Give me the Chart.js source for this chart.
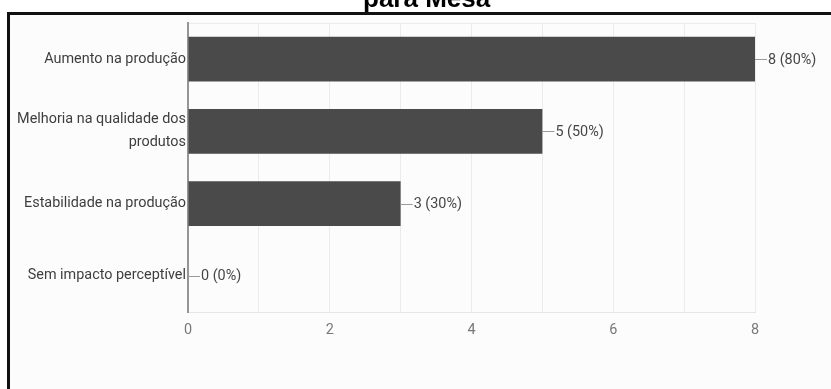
<!DOCTYPE html>
<html>
<head>
<meta charset="utf-8">
<script src="https://cdn.jsdelivr.net/npm/chart.js@4.4.1/dist/chart.umd.min.js"></script>
<style>
  html, body { margin: 0; padding: 0; background: #ffffff; width: 831px; height: 389px; overflow: hidden; }
  #title {
    position: absolute; left: 363px; top: -15px;
    font: bold 26px "Liberation Sans", Arial, sans-serif; line-height: 1;
    color: #000; white-space: nowrap; z-index: 3;
  }
  #frame {
    position: absolute; left: 7px; top: 12px; right: -10px; bottom: -10px;
    border-left: 3px solid #111; border-top: 3px solid #111;
    background: #fcfcfc; z-index: 1;
  }
  #wrap { position: absolute; left: 0; top: 0; width: 831px; height: 389px; z-index: 2; }
</style>
</head>
<body>
<div id="title">para Mesa</div>
<div id="frame"></div>
<div id="wrap"><canvas id="chart" width="831" height="389"></canvas></div>
<script>
// Answers and how many respondents chose each one
const categories = [
  'Aumento na produção',
  ['Melhoria na qualidade dos', 'produtos'],
  'Estabilidade na produção',
  'Sem impacto perceptível'
];
const counts = [8, 5, 3, 0];
const respondents = 10;
const xTicks = [0, 2, 4, 6, 8];

const textFont = 'Roboto, "Liberation Sans", Arial, sans-serif';
const textSize = 14.4;

// Value labels with a short leader line, e.g. "5 (50%)"
const valueLabels = {
  id: 'valueLabels',
  afterDatasetsDraw(chart) {
    const { ctx } = chart;
    const meta = chart.getDatasetMeta(0);
    ctx.save();
    ctx.font = textSize + 'px ' + textFont;
    ctx.textBaseline = 'middle';
    ctx.textAlign = 'left';
    meta.data.forEach((bar, i) => {
      const v = counts[i];
      const pct = Math.round(v / respondents * 100);
      const x = bar.x, y = bar.y;
      ctx.strokeStyle = '#9a9a9a';
      ctx.lineWidth = 1;
      ctx.beginPath();
      ctx.moveTo(x, Math.round(y) + 0.5);
      ctx.lineTo(x + 12, Math.round(y) + 0.5);
      ctx.stroke();
      ctx.fillStyle = '#464646';
      ctx.fillText(v + ' (' + pct + '%)', x + 13, y + 1);
    });
    ctx.restore();
  }
};

new Chart(document.getElementById('chart'), {
  type: 'bar',
  data: {
    labels: categories,
    datasets: [{
      data: counts,
      backgroundColor: '#4a4a4a',
      borderWidth: 0,
      barPercentage: 0.62,
      categoryPercentage: 1
    }]
  },
  options: {
    indexAxis: 'y',
    responsive: false,
    devicePixelRatio: 1,
    animation: false,
    layout: { padding: { top: 23, right: 76, bottom: 0, left: 0 } },
    plugins: { legend: { display: false }, title: { display: false }, tooltip: { enabled: false } },
    scales: {
      x: {
        min: 0, max: 8,
        afterFit(scale) { scale.height = 77; },
        grid: {
          drawTicks: false,
          color: ctx => (ctx.tick && ctx.tick.value === 0) ? 'rgba(0,0,0,0)' : '#ebebeb'
        },
        border: { display: true, color: '#e6e6e6', width: 1 },
        ticks: {
          stepSize: 1,
          autoSkip: false,
          padding: 10,
          color: '#777777',
          font: { family: textFont, size: textSize },
          callback: v => xTicks.includes(v) ? String(v) : ''
        }
      },
      y: {
        afterFit(scale) { scale.width = 188; },
        grid: {
          offset: true,
          drawTicks: false,
          color: ctx => ctx.index === 0 ? '#ebebeb' : 'rgba(0,0,0,0)'
        },
        border: { display: true, color: '#959595', width: 2 },
        ticks: {
          padding: 2,
          color: '#3e3e3e',
          font: { family: textFont, size: textSize, lineHeight: 1.6 }
        }
      }
    }
  },
  plugins: [valueLabels]
});
</script>
</body>
</html>
